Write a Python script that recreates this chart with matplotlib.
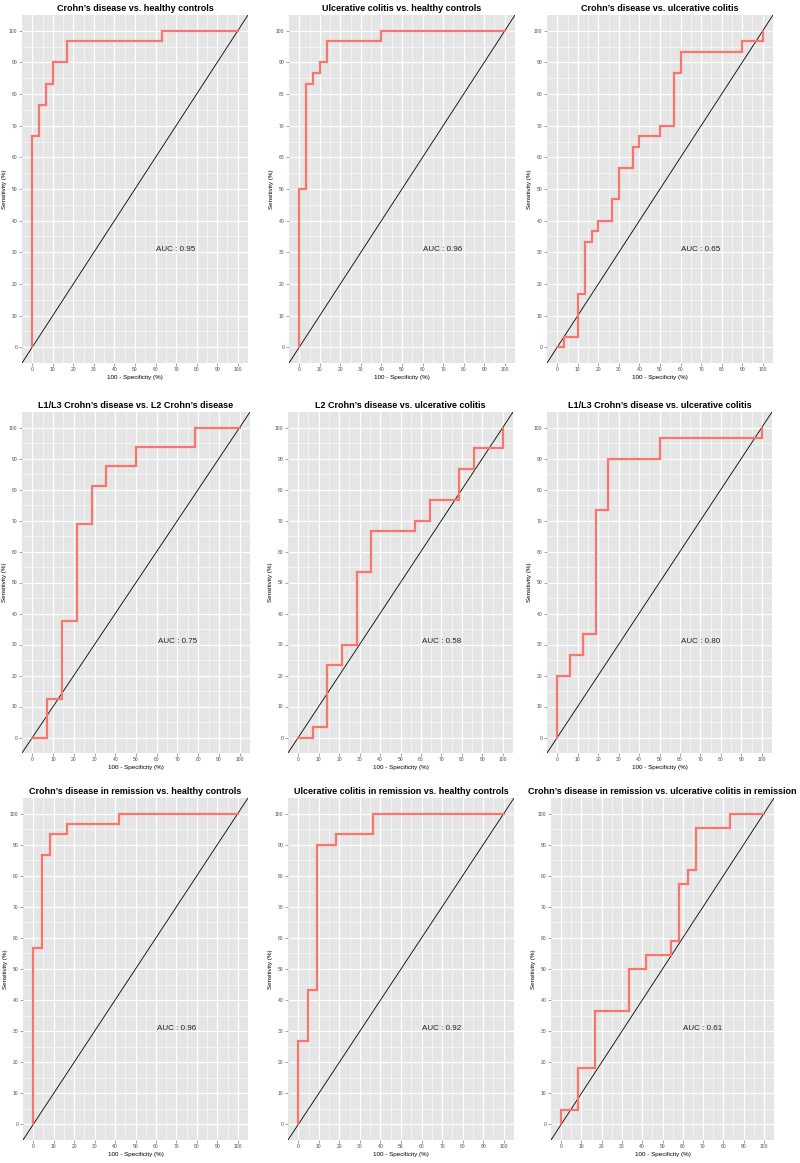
import matplotlib
matplotlib.use("Agg")
import matplotlib.pyplot as plt
import numpy as np

plt.rcParams["font.family"] = ["Liberation Sans", "DejaVu Sans"]

titles = [
    "Crohn\u2019s disease vs. healthy controls",
    "Ulcerative colitis vs. healthy controls",
    "Crohn\u2019s disease vs. ulcerative colitis",
    "L1/L3 Crohn\u2019s disease vs. L2 Crohn\u2019s disease",
    "L2 Crohn\u2019s disease vs. ulcerative colitis",
    "L1/L3 Crohn\u2019s disease vs. ulcerative colitis",
    "Crohn\u2019s disease in remission vs. healthy controls",
    "Ulcerative colitis in remission vs. healthy controls",
    "Crohn\u2019s disease in remission vs. ulcerative colitis in remission",
]
auc_labels = ["0.95", "0.96", "0.65", "0.75", "0.58", "0.80", "0.96", "0.92", "0.61"]

# ROC step paths: 100 - specificity (x) and sensitivity (y), in percent
cd_hc_x = [0, 0, 3.3, 3.3, 6.7, 6.7, 10, 10, 16.7, 16.7, 63.3, 63.3, 100]
cd_hc_y = [0, 66.7, 66.7, 76.7, 76.7, 83.3, 83.3, 90, 90, 96.7, 96.7, 100, 100]

uc_hc_x = [0, 0, 3.3, 3.3, 6.7, 6.7, 10, 10, 13.3, 13.3, 40, 40, 100]
uc_hc_y = [0, 50, 50, 83.3, 83.3, 86.7, 86.7, 90, 90, 96.7, 96.7, 100, 100]

cd_uc_x = [0, 3.3, 3.3, 10, 10, 13.3, 13.3, 16.7, 16.7, 20, 20, 26.7, 26.7, 30, 30,
           36.7, 36.7, 40, 40, 50, 50, 56.7, 56.7, 60, 60, 90, 90, 100, 100]
cd_uc_y = [0, 0, 3.3, 3.3, 16.7, 16.7, 33.3, 33.3, 36.7, 36.7, 40, 40, 46.7, 46.7, 56.7,
           56.7, 63.3, 63.3, 66.7, 66.7, 70, 70, 86.7, 86.7, 93.3, 93.3, 96.7, 96.7, 100]

l13_l2_x = [0, 7.1, 7.1, 14.3, 14.3, 21.4, 21.4, 28.6, 28.6, 35.7, 35.7, 50, 50, 78.6, 78.6, 100]
l13_l2_y = [0, 0, 12.5, 12.5, 37.5, 37.5, 68.75, 68.75, 81.25, 81.25, 87.5, 87.5, 93.75, 93.75, 100, 100]

l2_uc_x = [0, 7.1, 7.1, 14.3, 14.3, 21.4, 21.4, 28.6, 28.6, 35.7, 35.7, 57.1, 57.1, 64.3,
           64.3, 78.6, 78.6, 85.7, 85.7, 100, 100]
l2_uc_y = [0, 0, 3.3, 3.3, 23.3, 23.3, 30, 30, 53.3, 53.3, 66.7, 66.7, 70, 70,
           76.7, 76.7, 86.7, 86.7, 93.3, 93.3, 100]

l13_uc_x = [0, 0, 6.25, 6.25, 12.5, 12.5, 18.75, 18.75, 25, 25, 50, 50, 100, 100]
l13_uc_y = [0, 20, 20, 26.7, 26.7, 33.3, 33.3, 73.3, 73.3, 90, 90, 96.7, 96.7, 100]

cdr_hc_x = [0, 0, 4.2, 4.2, 8.3, 8.3, 16.7, 16.7, 41.7, 41.7, 100]
cdr_hc_y = [0, 56.7, 56.7, 86.7, 86.7, 93.3, 93.3, 96.7, 96.7, 100, 100]

ucr_hc_x = [0, 0, 4.5, 4.5, 9.1, 9.1, 18.2, 18.2, 36.4, 36.4, 100]
ucr_hc_y = [0, 26.7, 26.7, 43.3, 43.3, 90, 90, 93.3, 93.3, 100, 100]

cdr_ucr_x = [0, 0, 8.3, 8.3, 16.7, 16.7, 33.3, 33.3, 41.7, 41.7, 54.2, 54.2, 58.3, 58.3,
             62.5, 62.5, 66.7, 66.7, 83.3, 83.3, 100]
cdr_ucr_y = [0, 4.5, 4.5, 18.2, 18.2, 36.4, 36.4, 50, 50, 54.5, 54.5, 59.1, 59.1, 77.3,
             77.3, 81.8, 81.8, 95.5, 95.5, 100, 100]

curves_x = [cd_hc_x, uc_hc_x, cd_uc_x, l13_l2_x, l2_uc_x, l13_uc_x, cdr_hc_x, ucr_hc_x, cdr_ucr_x]
curves_y = [cd_hc_y, uc_hc_y, cd_uc_y, l13_l2_y, l2_uc_y, l13_uc_y, cdr_hc_y, ucr_hc_y, cdr_ucr_y]

# panel boxes in pixels (left, right, top, bottom)
W, H = 800, 1163
boxes = [
    (22, 248, 15, 363), (289, 515, 15, 363), (547, 773, 15, 363),
    (22, 250, 412, 753), (288, 513, 412, 753), (547, 772, 412, 753),
    (23, 248, 798, 1140), (288, 514, 798, 1140), (551, 774, 798, 1140),
]

fig = plt.figure(figsize=(W / 100, H / 100), dpi=100)
ticks = np.arange(0, 101, 10)

for i, (l, r, t, b) in enumerate(boxes):
    ax = fig.add_axes([l / W, 1 - b / H, (r - l) / W, (b - t) / H])
    ax.set_facecolor("#E5E5E5")
    for s in ax.spines.values():
        s.set_visible(False)
    ax.set_xlim(-5, 105)
    ax.set_ylim(-5, 105)
    ax.set_xticks(ticks)
    ax.set_yticks(ticks)
    ax.set_xticks(np.arange(5, 101, 10), minor=True)
    ax.set_yticks(np.arange(5, 101, 10), minor=True)
    ax.grid(which="major", color="white", lw=0.9)
    ax.grid(which="minor", color="white", lw=0.4)
    ax.set_axisbelow(True)
    ax.tick_params(which="major", length=2, width=0.5, color="#7F7F7F",
                   labelsize=3.6, labelcolor="#4D4D4D", pad=1.2)
    ax.tick_params(which="minor", length=0)
    ax.axline((0, 0), slope=1, color="black", lw=0.6, zorder=2)
    ax.plot(curves_x[i], curves_y[i], color="#F8766D", lw=1.6, zorder=3,
            solid_joinstyle="miter")
    ax.text(70, 31, "AUC : " + auc_labels[i], fontsize=5.8, ha="center", va="center",
            color="#222222")
    ax.set_xlabel("100 - Specificity (%)", fontsize=4.5, labelpad=2)
    ax.set_ylabel("Sensitivity (%)", fontsize=4.5, labelpad=1.5)
    ax.set_title(titles[i], fontsize=6.5, fontweight="bold", pad=3)

fig.savefig("out.png", dpi=100)
